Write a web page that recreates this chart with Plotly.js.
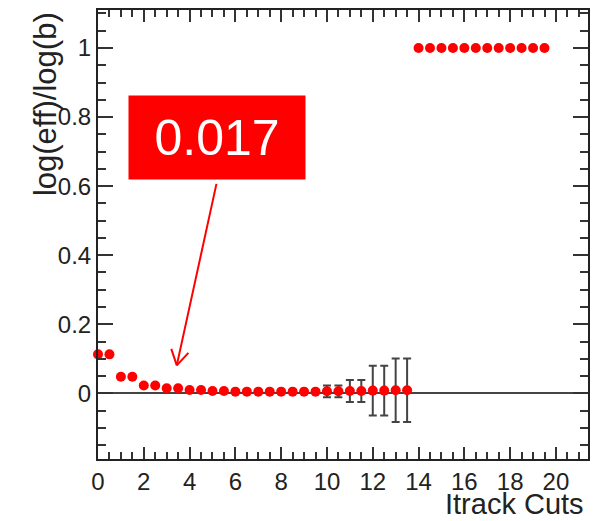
<!DOCTYPE html>
<html>
<head>
<meta charset="utf-8">
<script src="https://cdn.plot.ly/plotly-3.0.1.min.js"></script>
<style>html,body{margin:0;padding:0;background:#fff;}</style>
</head>
<body>
<div id="chart" style="width:606px;height:521px;"></div>
<script>
// Itrack cut values and the log(eff)/log(b) ratio
const cuts = [0,0.5,1,1.5,2,2.5,3,3.5,4,4.5,5,5.5,6,6.5,7,7.5,8,8.5,9,9.5,10,10.5,11,11.5,12,12.5,13,13.5,14,14.5,15,15.5,16,16.5,17,17.5,18,18.5,19,19.5];
const ratio = [0.113,0.113,0.048,0.048,0.023,0.023,0.015,0.015,0.010,0.010,0.007,0.007,0.005,0.005,0.005,0.005,0.005,0.005,0.005,0.005,0.006,0.006,0.007,0.007,0.008,0.008,0.009,0.009,1,1,1,1,1,1,1,1,1,1,1,1];
const ratioErr = [0,0,0,0,0,0,0,0,0,0,0,0,0,0,0,0,0,0,0,0,0.017,0.017,0.032,0.032,0.072,0.072,0.092,0.092,0,0,0,0,0,0,0,0,0,0,0,0];
const xTicks = [0,2,4,6,8,10,12,14,16,18,20];
const yTicks = [0,0.2,0.4,0.6,0.8,1];
const calloutText = "0.017";
const calloutX = 3.44, calloutY = 0.081;

const font = "Liberation Sans, Arial, Helvetica, sans-serif";
const trace = {
  x: cuts, y: ratio, type: 'scatter', mode: 'markers',
  marker: {color: '#ff0000', size: 10},
  error_y: {type: 'data', array: ratioErr, visible: true, color: '#444', thickness: 2, width: 4},
  cliponaxis: false,
  hoverinfo: 'x+y'
};
const layout = {
  width: 606, height: 521,
  margin: {l: 98, r: 18, t: 10, b: 62},
  paper_bgcolor: '#fff', plot_bgcolor: '#fff',
  showlegend: false,
  font: {family: font, color: '#222'},
  xaxis: {
    range: [0, 21.4], tickvals: xTicks, ticktext: xTicks.map(String),
    ticks: 'inside', ticklen: 12, tickwidth: 2, tickcolor: '#333',
    minor: {dtick: 0.5, tick0: 0, ticks: 'inside', ticklen: 7, tickwidth: 2, tickcolor: '#333'},
    showline: true, linecolor: '#222', linewidth: 2, mirror: 'ticks',
    showgrid: false, zeroline: false, ticklabelstandoff: 0,
    tickfont: {size: 24, family: font, color: '#222'}
  },
  yaxis: {
    range: [-0.19, 1.11], tickvals: yTicks, ticktext: ['0','0.2','0.4','0.6','0.8','1'],
    ticks: 'inside', ticklen: 15, tickwidth: 2, tickcolor: '#333',
    minor: {dtick: 0.05, tick0: 0, ticks: 'inside', ticklen: 8, tickwidth: 2, tickcolor: '#333'},
    showline: true, linecolor: '#222', linewidth: 2, mirror: 'ticks',
    showgrid: false, zeroline: true, zerolinecolor: '#444', zerolinewidth: 2,
    tickfont: {size: 24, family: font, color: '#222'}
  },
  annotations: [
    {xref: 'paper', yref: 'paper', x: 0.994, y: -0.1375, xanchor: 'right', yanchor: 'bottom',
     text: 'Itrack Cuts', showarrow: false, borderpad: 0, font: {size: 29, family: font, color: '#222'}},
    {xref: 'paper', yref: 'paper', x: -0.108, y: 1.0, xanchor: 'center', yanchor: 'top',
     text: 'log(eff)/log(b)', textangle: -90, showarrow: false, font: {size: 31, family: font, color: '#222'}},
    // arrow shaft
    {x: calloutX, y: calloutY, xref: 'x', yref: 'y', text: '', showarrow: true, arrowhead: 0,
     ax: 40, ay: -183, arrowcolor: '#ff0000', arrowwidth: 2},
    // arrow head barbs
    {x: calloutX, y: calloutY, xref: 'x', yref: 'y', text: '', showarrow: true, arrowhead: 0,
     ax: -6, ay: -18, arrowcolor: '#ff0000', arrowwidth: 2},
    {x: calloutX, y: calloutY, xref: 'x', yref: 'y', text: '', showarrow: true, arrowhead: 0,
     ax: 13, ay: -14, arrowcolor: '#ff0000', arrowwidth: 2},
    // callout box
    {x: calloutX, y: calloutY, xref: 'x', yref: 'y', text: calloutText, showarrow: true,
     arrowwidth: 0.1, arrowcolor: 'rgba(0,0,0,0)', ax: 40, ay: -228,
     bgcolor: '#ff0000', width: 176, height: 83, borderpad: 0,
     font: {size: 50, family: font, color: '#ffffff'}}
  ]
};
Plotly.newPlot('chart', [trace], layout, {displayModeBar: false, staticPlot: true});
</script>
</body>
</html>
